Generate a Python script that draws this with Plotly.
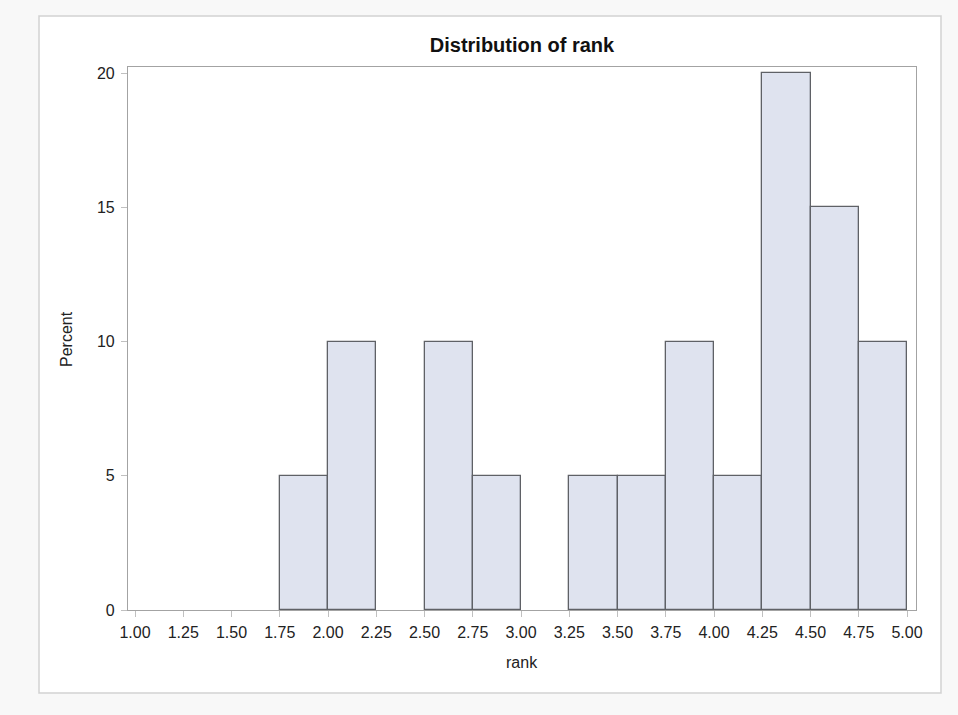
import plotly.graph_objects as go

# Histogram of rank: bin midpoints (width 0.25) and percent per bin
bin_mid = [1.875, 2.125, 2.375, 2.625, 2.875, 3.125, 3.375, 3.625, 3.875, 4.125, 4.375, 4.625, 4.875]
percent = [5, 10, 0, 10, 5, 0, 5, 5, 10, 5, 20, 15, 10]
bin_width = 0.25

x_ticks = [1.00, 1.25, 1.50, 1.75, 2.00, 2.25, 2.50, 2.75, 3.00, 3.25, 3.50, 3.75, 4.00, 4.25, 4.50, 4.75, 5.00]
y_ticks = [0, 5, 10, 15, 20]

W, H = 958, 715
L, R, T, B = 128, 916, 67, 610
FONT = "Liberation Sans, Arial, sans-serif"

fig = go.Figure()
fig.add_trace(go.Bar(
    x=bin_mid,
    y=percent,
    width=bin_width,
    marker=dict(
        color="#dfe3ef",
        # empty bins get no outline so the axis line stays clean
        line=dict(color="#5f6166", width=[1.3 if v > 0 else 0 for v in percent]),
    ),
    hoverinfo="x+y",
))

def px_x(p):
    return (p - L) / (R - L)

def px_y(p):
    return (B - p) / (B - T)

fig.update_layout(
    width=W, height=H,
    margin=dict(l=L, r=W - R, t=T, b=H - B, pad=0),
    paper_bgcolor="#f8f8f8",
    plot_bgcolor="white",
    showlegend=False,
    bargap=0,
    font=dict(family=FONT, size=16, color="#222222"),
    title=dict(
        text="<b>Distribution of rank</b>",
        x=0.5, xref="paper", xanchor="center",
        y=1 - 45 / H, yref="container", yanchor="middle",
        font=dict(family=FONT, size=20, color="#111111"),
    ),
    shapes=[
        dict(type="rect", xref="paper", yref="paper", layer="below",
             x0=px_x(39), x1=px_x(941), y0=px_y(693), y1=px_y(16),
             fillcolor="white", line=dict(color="#d2d2d2", width=1.5)),
    ],
    annotations=[
        dict(text="rank", xref="paper", yref="paper", x=0.5, y=px_y(662),
             showarrow=False, xanchor="center", yanchor="middle",
             font=dict(family=FONT, size=16, color="#222222")),
        dict(text="Percent", xref="paper", yref="paper", x=px_x(66), y=px_y(339),
             showarrow=False, textangle=-90, xanchor="center", yanchor="middle",
             font=dict(family=FONT, size=16, color="#222222")),
    ],
)

x_per_px = 0.25 / 48.25
fig.update_xaxes(
    range=[1.0 - 7 * x_per_px, 5.0 + 9 * x_per_px],
    tickmode="array", tickvals=x_ticks, ticktext=[f"{v:.2f}" for v in x_ticks],
    ticks="outside", ticklen=6, tickcolor="#c0c0c0", tickwidth=1,
    ticklabelstandoff=2,
    showline=True, linecolor="#a3a3a3", linewidth=1.2, mirror=True,
    showgrid=False, zeroline=False,
    tickfont=dict(family=FONT, size=16, color="#222222"),
)
y_per_px = 20 / (B - 73)
fig.update_yaxes(
    range=[0, 20 + (73 - T) * y_per_px],
    tickmode="array", tickvals=y_ticks, ticktext=[str(v) for v in y_ticks],
    ticks="outside", ticklen=6, tickcolor="#c0c0c0", tickwidth=1,
    ticklabelstandoff=3,
    showline=True, linecolor="#a3a3a3", linewidth=1.2, mirror=True,
    showgrid=False, zeroline=False,
    tickfont=dict(family=FONT, size=16, color="#222222"),
)

fig.write_html("out.html")
